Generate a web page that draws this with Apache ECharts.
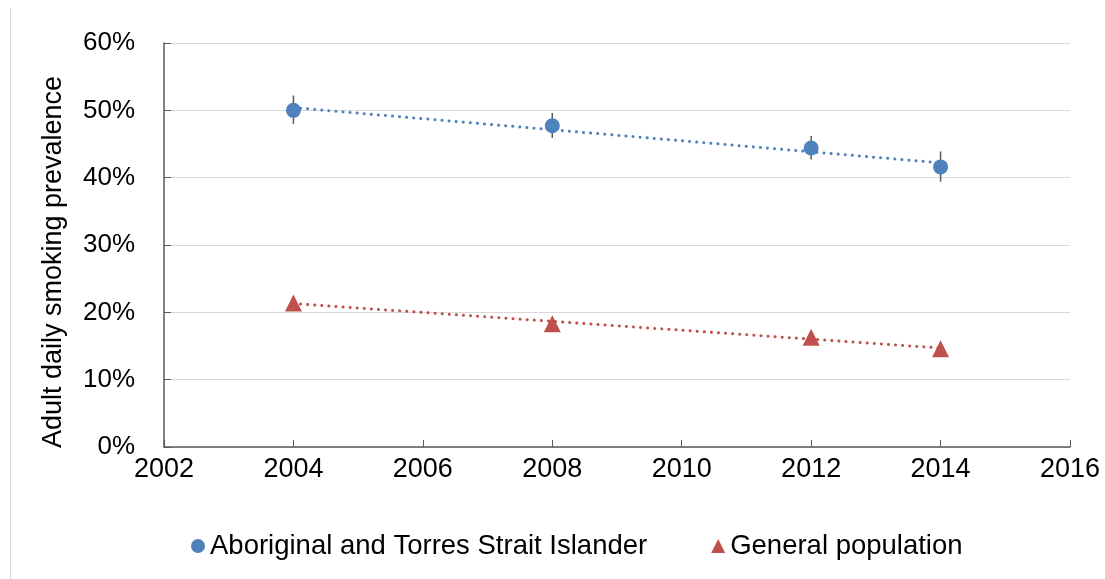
<!DOCTYPE html>
<html>
<head>
<meta charset="utf-8">
<script src="https://cdn.jsdelivr.net/npm/echarts@6/dist/echarts.min.js"></script>
<style>
  html, body { margin: 0; padding: 0; background: #fff; }
  #chart { width: 1105px; height: 579px; }
</style>
</head>
<body>
<div id="chart"></div>
<script>
var years = [2004, 2008, 2012, 2014];
var aboriginal = [50.0, 47.7, 44.4, 41.6];
var aboriginalLow = [48.0, 45.9, 42.7, 39.4];
var aboriginalHigh = [52.2, 49.6, 46.2, 43.9];
var general = [21.4, 18.3, 16.3, 14.6];
// dotted trend lines, end points
var aboriginalTrend = [[2004, 50.4], [2014, 42.2]];
var generalTrend = [[2004, 21.3], [2014, 14.7]];
var yTicks = [0, 10, 20, 30, 40, 50, 60];

var blue = '#4f81bd', red = '#c0504d', axisGrey = '#595959';
var font = '"Liberation Sans", Arial, sans-serif';

window.onload = function() {
  var myChart = echarts.init(document.getElementById('chart'));

  function pairs(vals) {
    return years.map(function(y, i) { return [y, vals[i]]; });
  }

  var errData = years.map(function(y, i) {
    return [y, aboriginalLow[i], aboriginalHigh[i]];
  });

  var option = {
    animation: false,
    textStyle: { fontFamily: font },
    graphic: [{
      type: 'line',
      shape: { x1: 10.5, y1: 8, x2: 10.5, y2: 579 },
      style: { stroke: '#d9d9d9', lineWidth: 1 }
    }],
    grid: { left: 164, right: 35, top: 43, bottom: 132 },
    legend: {
      top: 527,
      left: 186,
      itemGap: 64,
      itemWidth: 14,
      itemHeight: 14,
      textStyle: { fontSize: 27.5, color: '#000', fontFamily: font },
      data: [
        { name: 'Aboriginal and Torres Strait Islander', icon: 'circle', itemStyle: { color: blue } },
        { name: 'General population', icon: 'triangle', itemStyle: { color: red } }
      ]
    },
    xAxis: {
      type: 'value',
      min: 2002, max: 2016, interval: 2,
      axisLine: { lineStyle: { color: axisGrey, width: 1.5 } },
      axisTick: { inside: true, length: 7, lineStyle: { color: axisGrey } },
      splitLine: { show: false },
      axisLabel: {
        fontSize: 27, color: '#000', margin: 9, fontFamily: font,
        formatter: function(v) { return String(v); }
      }
    },
    yAxis: {
      type: 'value',
      min: yTicks[0], max: yTicks[yTicks.length - 1], interval: 10,
      name: 'Adult daily smoking prevalence',
      nameLocation: 'middle',
      nameGap: 97,
      nameTextStyle: { fontSize: 27, color: '#000', fontFamily: font, padding: [0, 34, 0, 0] },
      axisLine: { show: true, lineStyle: { color: axisGrey, width: 1.5 } },
      axisTick: { show: true, inside: true, length: 7, lineStyle: { color: axisGrey } },
      splitLine: { lineStyle: { color: '#d9d9d9' } },
      axisLabel: { fontSize: 26, color: '#000', margin: 29, formatter: '{value}%', fontFamily: font }
    },
    series: [
      {
        name: 'aboriginalTrend',
        type: 'line',
        data: aboriginalTrend,
        symbol: 'none',
        silent: true,
        lineStyle: { color: blue, width: 3, type: [0.1, 7], cap: 'round' },
        z: 1
      },
      {
        name: 'generalTrend',
        type: 'line',
        data: generalTrend,
        symbol: 'none',
        silent: true,
        lineStyle: { color: red, width: 3, type: [0.1, 7], cap: 'round' },
        z: 1
      },
      {
        name: 'errors',
        type: 'custom',
        data: errData,
        z: 2,
        renderItem: function(params, api) {
          var x = api.value(0);
          var lo = api.coord([x, api.value(1)]);
          var hi = api.coord([x, api.value(2)]);
          return {
            type: 'line',
            shape: { x1: lo[0], y1: lo[1], x2: hi[0], y2: hi[1] },
            style: { stroke: axisGrey, lineWidth: 1.5 }
          };
        }
      },
      {
        name: 'Aboriginal and Torres Strait Islander',
        type: 'scatter',
        data: pairs(aboriginal),
        symbol: 'circle',
        symbolSize: 15,
        itemStyle: { color: blue, opacity: 1 },
        z: 3
      },
      {
        name: 'General population',
        type: 'scatter',
        data: pairs(general),
        symbol: 'triangle',
        symbolSize: [17, 17],
        itemStyle: { color: red, opacity: 1 },
        z: 3
      }
    ]
  };

  myChart.setOption(option);
};
</script>
</body>
</html>
